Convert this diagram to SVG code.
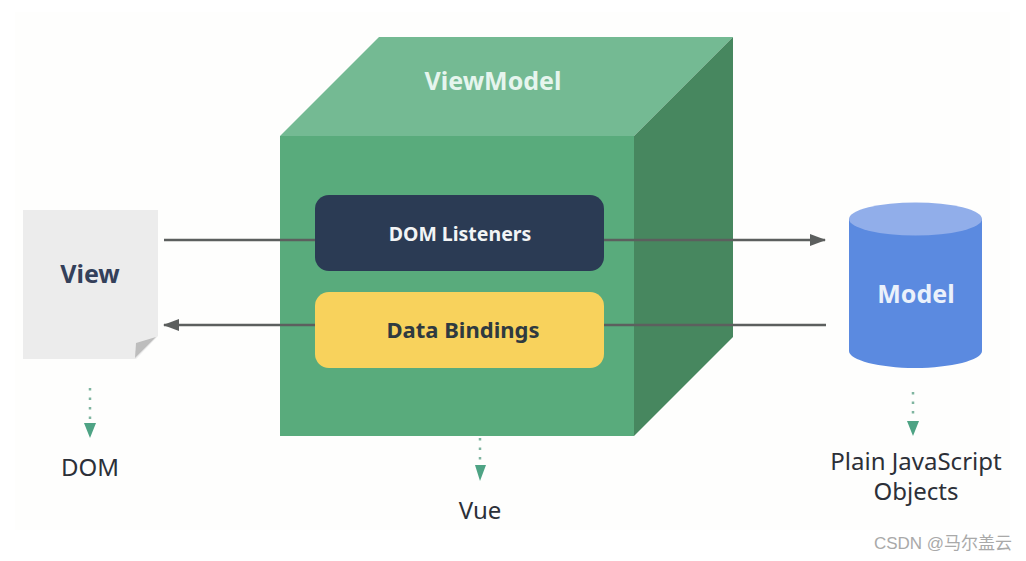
<svg xmlns="http://www.w3.org/2000/svg" width="1026" height="561" viewBox="0 0 1026 561">
<style>
text{font-family:"Noto Sans","Open Sans","Liberation Sans",sans-serif;text-anchor:middle}
.b{font-weight:700}
.l{font-size:24px;fill:#2c3038}
.conn{stroke:#5c5f5e;stroke-width:2.500;fill:none}
.dots{stroke:#7fb5a0;stroke-width:2.500;stroke-dasharray:2.500 7;fill:none}
.tip{fill:#4ea384}
</style>
<defs>
<marker id="ah" markerUnits="userSpaceOnUse" markerWidth="16" markerHeight="12" refX="15" refY="6" orient="auto"><path d="M0 0L16 6L0 12Z" fill="#5c5f5e"/></marker>
</defs>
<rect width="1026" height="561" fill="#fff"/>
<rect x="15" y="12" width="995" height="518" fill="#fefefd"/>
<g id="viewmodel">
<polygon points="280,136 379,37 733,37 634,136" fill="#74ba93"/>
<polygon points="634,136 733,37 733,337 634,436" fill="#47875f"/>
<rect x="280" y="136" width="354" height="300" fill="#59ab7c"/>
<text class="b" x="493" y="90" font-size="25" fill="#e6f5ee">ViewModel</text>
</g>
<g id="connectors">
<line class="conn" x1="164" y1="240" x2="825" y2="240" marker-end="url(#ah)"/>
<line class="conn" x1="826" y1="325" x2="164" y2="325" marker-end="url(#ah)"/>
<line class="dots" x1="90" y1="388" x2="90" y2="424"/>
<polygon class="tip" points="84,423 96,423 90,438"/>
<line class="dots" x1="480" y1="438" x2="480" y2="466"/>
<polygon class="tip" points="475,465 486,465 480,481"/>
<line class="dots" x1="913" y1="392" x2="913" y2="420"/>
<polygon class="tip" points="907,421 919,421 913,436"/>
</g>
<g id="dom-listeners">
<rect x="315" y="195" width="289" height="76" rx="14" fill="#2b3b54"/>
<text class="b" x="460" y="241" font-size="19.500" fill="#f2f4f5">DOM Listeners</text>
</g>
<g id="data-bindings">
<rect x="315" y="292" width="289" height="76" rx="14" fill="#f8d25c"/>
<text class="b" x="463" y="338" font-size="22" fill="#2f3a40">Data Bindings</text>
</g>
<g id="view">
<polygon points="23,210 158,210 158,336 136,359 23,359" fill="#ececec"/>
<polygon points="156,337 136,343 135,358" fill="#bdbdbd"/>
<text class="b" x="90" y="283" font-size="25" fill="#34405a">View</text>
</g>
<g id="model">
<path d="M849 219V351C849 360 879 368 915 368S982 360 982 351V219Z" fill="#5b8ae0"/>
<ellipse cx="915.500" cy="219" rx="66.500" ry="16.500" fill="#91aeea"/>
<text class="b" x="916" y="303" font-size="25" fill="#eaf1fb">Model</text>
</g>
<g id="labels">
<text class="l" x="90" y="476">DOM</text>
<text class="l" x="480" y="519">Vue</text>
<text class="l" x="916" y="470">Plain JavaScript</text>
<text class="l" x="916" y="500">Objects</text>
</g>
<text x="943" y="549" font-size="17" fill="#a9a9a9" style="font-family:'Liberation Sans','Noto Sans CJK SC',sans-serif">CSDN @马尔盖云</text>
</svg>
